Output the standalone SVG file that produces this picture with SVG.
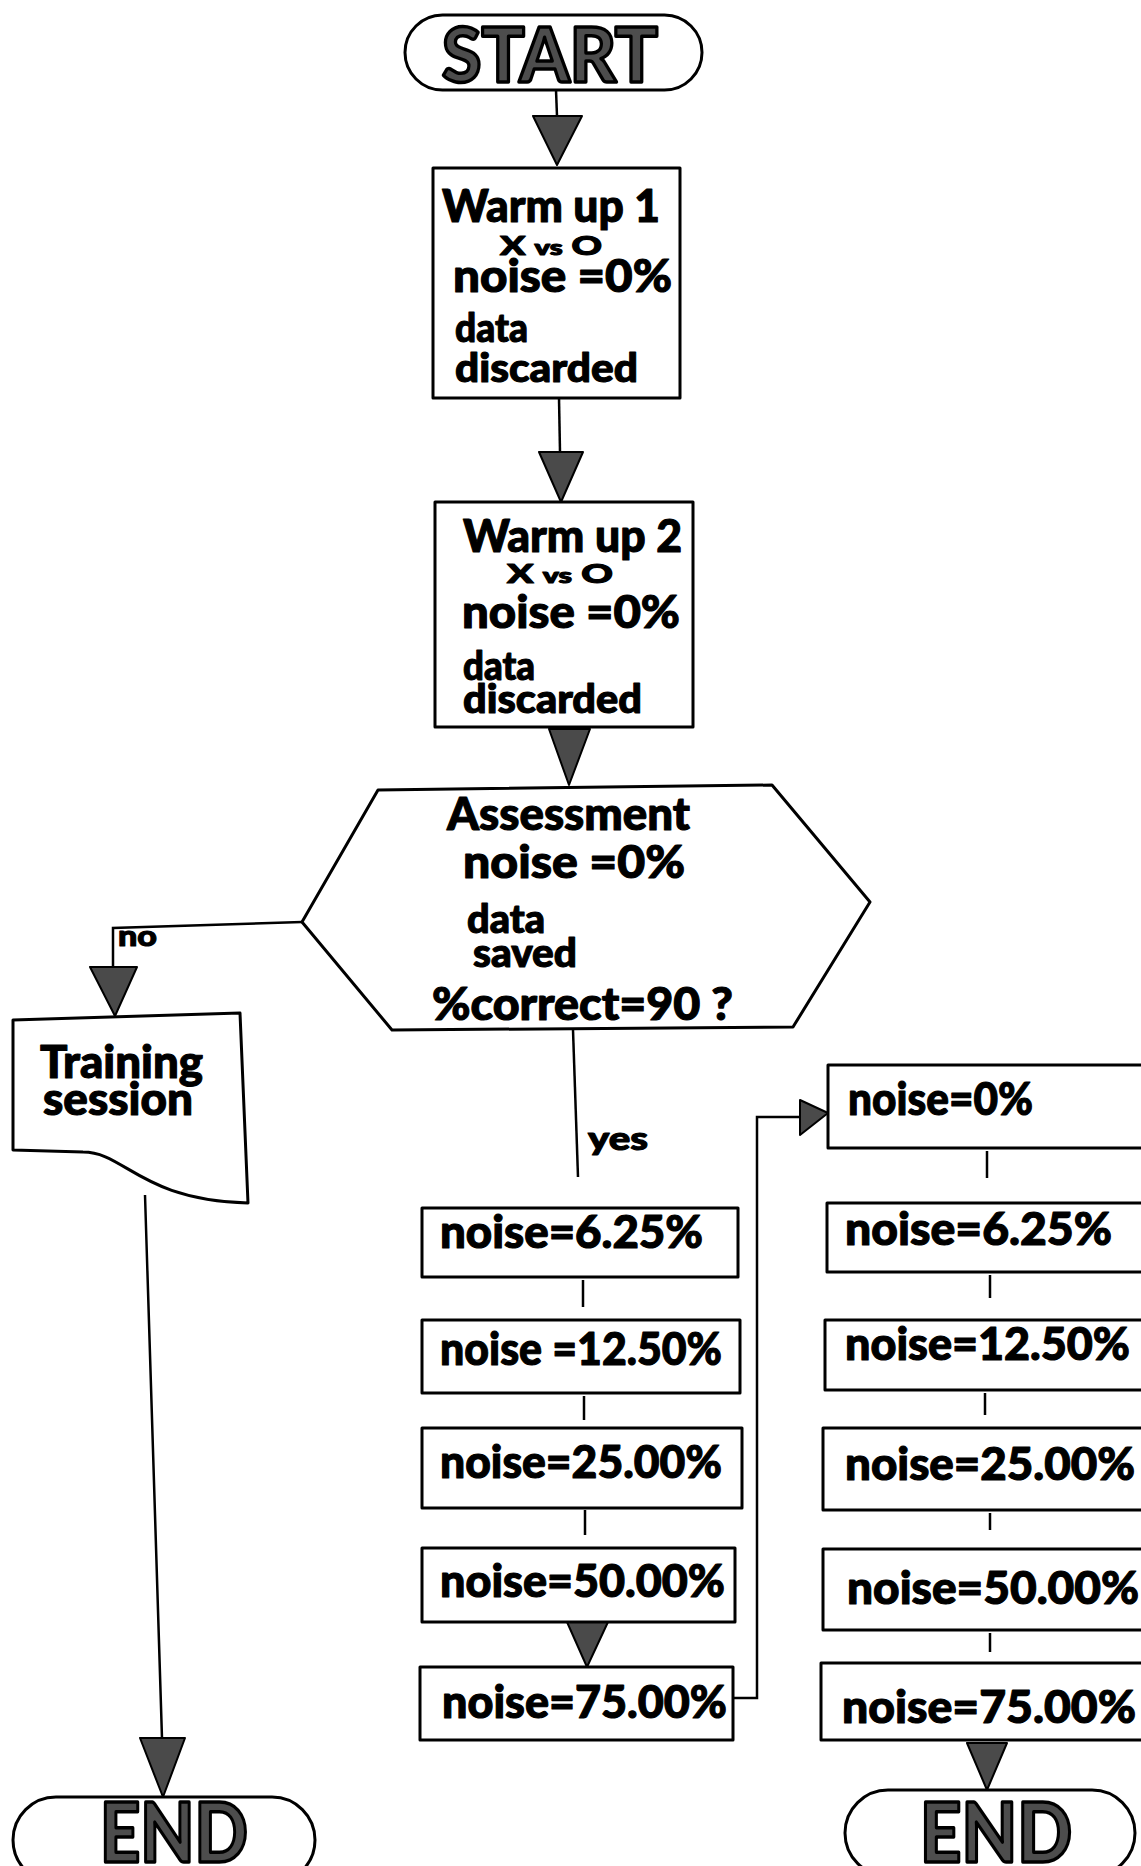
<svg xmlns="http://www.w3.org/2000/svg" width="1141" height="1866" viewBox="0 0 1141 1866">
<style>
.t{font-family:Lato,"DejaVu Sans","Liberation Sans",sans-serif;font-weight:900;fill:#000;stroke:#000;stroke-width:1.1;stroke-linejoin:round}
.big{font-size:45px}
.mid{font-size:40px}
.sm{font-size:27px}
.term{font-family:Lato,"DejaVu Sans","Liberation Sans",sans-serif;font-weight:900;fill:#4d4d4d;stroke:#000;stroke-width:3.5;stroke-linejoin:round}
.box{fill:#fff;stroke:#000;stroke-width:3;stroke-linejoin:round}
.conn{fill:none;stroke:#000;stroke-width:2.5}
.ah{fill:#4a4a4a;stroke:#000;stroke-width:2;stroke-linejoin:round}
</style>
<rect width="1141" height="1866" fill="#fff"/>

<g id="connectors">
  <line class="conn" x1="556" y1="90" x2="557" y2="116"/>
  <polygon class="ah" points="533,116 582,116 557,165"/>
  <line class="conn" x1="559" y1="398" x2="560" y2="452"/>
  <polygon class="ah" points="539,452 583,452 561,502"/>
  <polygon class="ah" points="549,729 590,729 569,785"/>
  <polyline class="conn" points="302,922 113,928 113,967"/>
  <polygon class="ah" points="90,967 137,967 115,1016"/>
  <line class="conn" x1="145" y1="1195" x2="162" y2="1738"/>
  <polygon class="ah" points="140,1738 185,1738 163,1797"/>
  <line class="conn" x1="573" y1="1030" x2="578" y2="1177"/>
  <line class="conn" x1="583" y1="1280" x2="583" y2="1307"/>
  <line class="conn" x1="584" y1="1396" x2="584" y2="1420"/>
  <line class="conn" x1="585" y1="1510" x2="585" y2="1535"/>
  <polygon class="ah" points="567,1622 608,1622 587,1667"/>
  <polyline class="conn" points="733,1698 757,1698 757,1117 801,1117"/>
  <polygon class="ah" points="800,1100 800,1135 828,1113"/>
  <line class="conn" x1="987" y1="1151" x2="987" y2="1178"/>
  <line class="conn" x1="990" y1="1275" x2="990" y2="1298"/>
  <line class="conn" x1="985" y1="1393" x2="985" y2="1415"/>
  <line class="conn" x1="990" y1="1513" x2="990" y2="1530"/>
  <line class="conn" x1="990" y1="1633" x2="990" y2="1652"/>
  <polygon class="ah" points="967,1743 1007,1743 987,1790"/>
</g>

<g id="start">
  <rect class="box" x="405" y="15" width="297" height="75" rx="37.5"/>
  <text class="term" x="442" y="82" font-size="76" textLength="216" lengthAdjust="spacingAndGlyphs">START</text>
</g>

<g id="warmup1">
  <rect class="box" x="433" y="168" width="247" height="230"/>
  <text class="t big" x="442" y="222" textLength="218" lengthAdjust="spacingAndGlyphs">Warm up 1</text>
  <text class="t sm" x="500" y="255" textLength="102" lengthAdjust="spacingAndGlyphs">X <tspan font-size="21">vs</tspan> O</text>
  <text class="t big" x="453" y="292" textLength="219" lengthAdjust="spacingAndGlyphs">noise =0%</text>
  <text class="t mid" x="455" y="342" textLength="73" lengthAdjust="spacingAndGlyphs">data</text>
  <text class="t mid" x="455" y="382" textLength="183" lengthAdjust="spacingAndGlyphs">discarded</text>
</g>

<g id="warmup2">
  <rect class="box" x="435" y="502" width="258" height="225"/>
  <text class="t big" x="463" y="552" textLength="219" lengthAdjust="spacingAndGlyphs">Warm up 2</text>
  <text class="t sm" x="507" y="583" textLength="106" lengthAdjust="spacingAndGlyphs">X <tspan font-size="21">vs</tspan> O</text>
  <text class="t big" x="462" y="628" textLength="218" lengthAdjust="spacingAndGlyphs">noise =0%</text>
  <text class="t mid" x="463" y="680" textLength="72" lengthAdjust="spacingAndGlyphs">data</text>
  <text class="t mid" x="463" y="713" textLength="179" lengthAdjust="spacingAndGlyphs">discarded</text>
</g>

<g id="assessment">
  <polygon class="box" points="378,790 772,785 870,902 793,1027 392,1030 302,922"/>
  <text class="t" x="447" y="830" font-size="46" textLength="243" lengthAdjust="spacingAndGlyphs">Assessment</text>
  <text class="t big" x="463" y="878" textLength="222" lengthAdjust="spacingAndGlyphs">noise =0%</text>
  <text class="t mid" x="467" y="933" textLength="78" lengthAdjust="spacingAndGlyphs">data</text>
  <text class="t mid" x="473" y="967" textLength="104" lengthAdjust="spacingAndGlyphs">saved</text>
  <text class="t big" x="432" y="1020" textLength="301" lengthAdjust="spacingAndGlyphs">%correct=90 ?</text>
</g>

<g id="label-no">
  <text class="t" x="118" y="946" font-size="29" textLength="39" lengthAdjust="spacingAndGlyphs">no</text>
</g>
<g id="label-yes">
  <text class="t" x="588" y="1150" font-size="33" textLength="60" lengthAdjust="spacingAndGlyphs">yes</text>
</g>

<g id="training">
  <path class="box" d="M13,1020 L240,1013 L248,1203 C140,1200 125,1152 83,1152 L13,1150 Z"/>
  <text class="t" x="40" y="1078" font-size="45" textLength="163" lengthAdjust="spacingAndGlyphs">Training</text>
  <text class="t" x="43" y="1115" font-size="45" textLength="150" lengthAdjust="spacingAndGlyphs">session</text>
</g>

<g id="end-left">
  <rect class="box" x="13" y="1797" width="302" height="86" rx="43"/>
  <text class="term" x="100" y="1862" font-size="82" textLength="148" lengthAdjust="spacingAndGlyphs">END</text>
</g>

<g id="m625">
  <rect class="box" x="422" y="1208" width="316" height="69"/>
  <text class="t big" x="440" y="1248" textLength="263" lengthAdjust="spacingAndGlyphs">noise=6.25%</text>
</g>
<g id="m1250">
  <rect class="box" x="422" y="1320" width="318" height="73"/>
  <text class="t big" x="440" y="1365" textLength="282" lengthAdjust="spacingAndGlyphs">noise =12.50%</text>
</g>
<g id="m2500">
  <rect class="box" x="422" y="1428" width="320" height="80"/>
  <text class="t big" x="440" y="1478" textLength="282" lengthAdjust="spacingAndGlyphs">noise=25.00%</text>
</g>
<g id="m5000">
  <rect class="box" x="422" y="1548" width="313" height="74"/>
  <text class="t big" x="440" y="1597" textLength="285" lengthAdjust="spacingAndGlyphs">noise=50.00%</text>
</g>
<g id="m7500">
  <rect class="box" x="420" y="1667" width="313" height="73"/>
  <text class="t big" x="442" y="1718" textLength="285" lengthAdjust="spacingAndGlyphs">noise=75.00%</text>
</g>

<g id="r000">
  <rect class="box" x="828" y="1065" width="330" height="83"/>
  <text class="t big" x="848" y="1115" textLength="185" lengthAdjust="spacingAndGlyphs">noise=0%</text>
</g>
<g id="r625">
  <rect class="box" x="827" y="1203" width="330" height="69"/>
  <text class="t big" x="845" y="1245" textLength="267" lengthAdjust="spacingAndGlyphs">noise=6.25%</text>
</g>
<g id="r1250">
  <rect class="box" x="825" y="1320" width="330" height="70"/>
  <text class="t big" x="845" y="1360" textLength="285" lengthAdjust="spacingAndGlyphs">noise=12.50%</text>
</g>
<g id="r2500">
  <rect class="box" x="823" y="1428" width="330" height="82"/>
  <text class="t big" x="845" y="1480" textLength="290" lengthAdjust="spacingAndGlyphs">noise=25.00%</text>
</g>
<g id="r5000">
  <rect class="box" x="823" y="1549" width="330" height="81"/>
  <text class="t big" x="847" y="1604" textLength="292" lengthAdjust="spacingAndGlyphs">noise=50.00%</text>
</g>
<g id="r7500">
  <rect class="box" x="821" y="1663" width="330" height="77"/>
  <text class="t big" x="842" y="1723" textLength="294" lengthAdjust="spacingAndGlyphs">noise=75.00%</text>
</g>

<g id="end-right">
  <rect class="box" x="845" y="1790" width="290" height="86" rx="43"/>
  <text class="term" x="920" y="1862" font-size="82" textLength="152" lengthAdjust="spacingAndGlyphs">END</text>
</g>
</svg>
